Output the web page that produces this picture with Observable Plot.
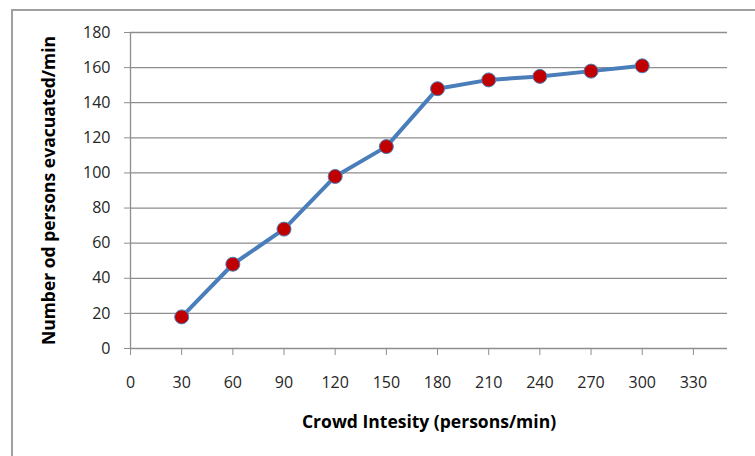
<!DOCTYPE html>
<html>
<head>
<meta charset="utf-8">
<script src="https://cdn.jsdelivr.net/npm/d3@7"></script>
<script src="https://cdn.jsdelivr.net/npm/@observablehq/plot@0.6"></script>
<style>
  html, body { margin: 0; padding: 0; background: #fff; }
  #wrap { position: relative; width: 755px; height: 456px; overflow: hidden; }
  #frame { position: absolute; left: 11px; top: 9px; width: 760px; height: 460px;
           border-top: 2px solid #a0a0a0; border-left: 2px solid #a0a0a0; box-sizing: border-box; }
  #chart { position: absolute; left: 0; top: 0; }
</style>
</head>
<body>
<div id="wrap"><div id="frame"></div><div id="chart"></div></div>
<script>
const intensity = [30, 60, 90, 120, 150, 180, 210, 240, 270, 300];
const evacuated = [18, 48, 68, 98, 115, 148, 153, 155, 158, 161];
const xTicks = [0, 30, 60, 90, 120, 150, 180, 210, 240, 270, 300, 330];
const yTicks = [0, 20, 40, 60, 80, 100, 120, 140, 160, 180];
const xTitle = "Crowd Intesity (persons/min)";
const yTitle = "Number od persons evacuated/min";

const data = intensity.map((x, i) => ({x, y: evacuated[i]}));
const grid = "#8e8e8e";
const font = "'Open Sans', sans-serif";

const chart = Plot.plot({
  width: 755,
  height: 456,
  marginLeft: 130,
  marginRight: 28,
  marginTop: 32,
  marginBottom: 108,
  style: {fontFamily: font, fontSize: "16px", color: "#262626", background: "transparent"},
  x: {domain: [0, 350]},
  y: {domain: [0, 180]},
  marks: [
    Plot.gridY(yTicks.filter(d => d > 0), {stroke: grid, strokeOpacity: 1, strokeWidth: 1.3}),
    Plot.ruleY([0], {stroke: grid, strokeWidth: 1.3}),
    Plot.ruleX([0], {stroke: grid, strokeWidth: 1.3}),
    Plot.axisX(xTicks, {tickSize: 7, tickPadding: 21, stroke: grid, fill: "#262626", label: null, fontSize: 16}),
    Plot.axisY(yTicks, {tickSize: 6, tickPadding: 14, stroke: grid, fill: "#262626", label: null, fontSize: 16}),
    Plot.line(data, {x: "x", y: "y", stroke: "#4a7ebb", strokeWidth: 4}),
    Plot.dot(data, {x: "x", y: "y", r: 7, fill: "#c00000", stroke: "#4a7ebb", strokeWidth: 1}),
    Plot.text([xTitle], {frameAnchor: "bottom", dy: 79, text: d => d, fontWeight: "bold", fontSize: 17.5, fill: "#000"}),
    Plot.text([yTitle], {frameAnchor: "left", dx: -81, rotate: -90, textAnchor: "middle", text: d => d, fontWeight: "bold", fontSize: 17.5, fill: "#000"})
  ]
});
document.getElementById("chart").appendChild(chart);
</script>
</body>
</html>
